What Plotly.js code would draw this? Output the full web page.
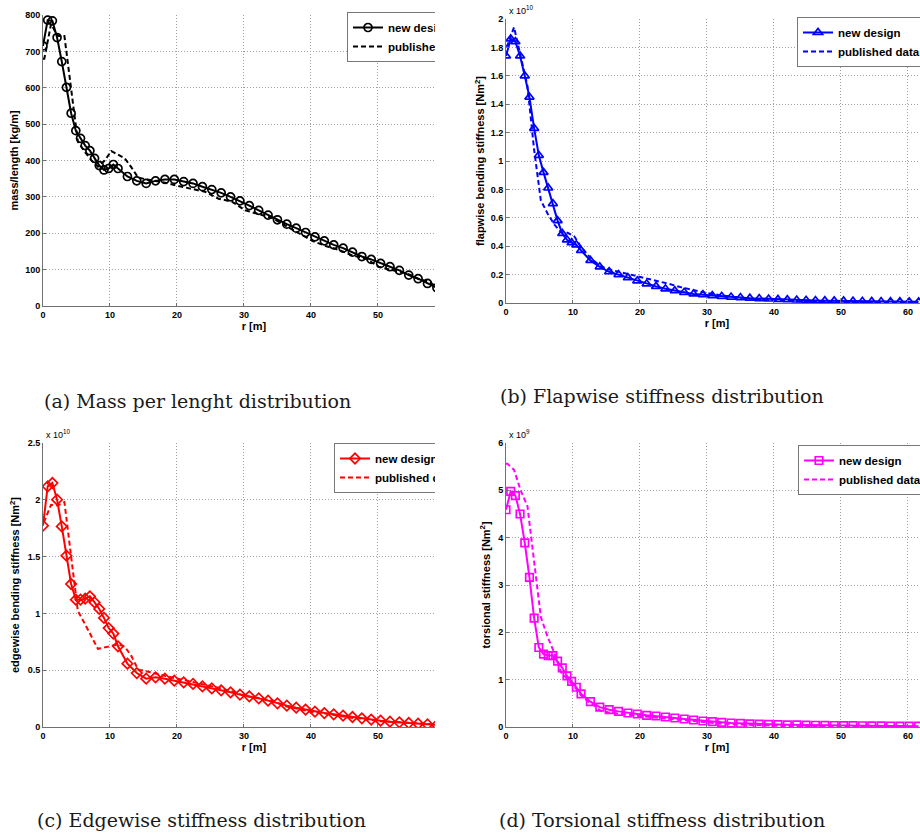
<!DOCTYPE html>
<html>
<head>
<meta charset="utf-8">
<script src="https://cdn.plot.ly/plotly-3.0.1.min.js"></script>
<style>
  html, body { margin: 0; padding: 0; background: #fff; }
  body { width: 920px; height: 834px; position: relative; overflow: hidden; }
  .pane { position: absolute; overflow: hidden; background: #fff; }
</style>
</head>
<body>
<div class="pane" style="left:0;top:0;width:435px;height:417px"><div id="pa"></div></div>
<div class="pane" style="left:460px;top:0;width:460px;height:417px"><div id="pb"></div></div>
<div class="pane" style="left:0;top:417px;width:435px;height:417px"><div id="pc"></div></div>
<div class="pane" style="left:460px;top:417px;width:460px;height:417px"><div id="pd"></div></div>
<script>
// Spanwise stations of the new blade design [m]
const rNew = [0, 0.7, 1.4, 2.1, 2.8, 3.5, 4.2, 4.9, 5.6, 6.3, 7.0, 7.7, 8.4, 9.1, 9.8, 10.5, 11.2,
  12.6, 14.0, 15.4, 16.8, 18.2, 19.6, 21.0, 22.4, 23.8, 25.2, 26.6, 28.0, 29.4, 30.8, 32.2, 33.6,
  35.0, 36.4, 37.8, 39.2, 40.6, 42.0, 43.4, 44.8, 46.2, 47.6, 49.0, 50.4, 51.8, 53.2, 54.6, 56.0,
  57.4, 58.8, 60.2, 61.6];

// Spanwise stations of the published reference blade [m]
const rPub = [0, 0.2, 1.2, 2.2, 3.2, 4.2, 5.2, 6.2, 7.2, 8.2, 9.2, 10.2, 11.2, 12.2, 13.2, 14.2,
  15.2, 16.2, 18.2, 20.2, 22.2, 24.2, 26.2, 28.2, 30.2, 32.2, 34.2, 36.2, 38.2, 40.2, 42.2, 44.2,
  46.2, 48.2, 50.2, 52.2, 54.2, 55.2, 56.2, 57.2, 57.7, 58.2, 58.7, 59.2, 59.7, 60.2, 60.7, 61.2, 61.5];

// (a) mass per length [kg/m]
const massNew = [715, 786, 784, 738, 672, 601, 530, 482, 461, 441, 427, 406, 386, 374, 378, 389, 378,
  356, 344, 337, 344, 348, 348, 342, 337, 328, 320, 311, 300, 289, 276, 263, 250, 237, 225, 214,
  202, 190, 179, 168, 159, 148, 136, 128, 117, 108, 98, 85, 75, 62, 50];
const massPub = [680, 680, 775, 742, 742, 592, 452, 425, 401, 383, 400, 426, 417, 406, 381, 353,
  349, 346, 339, 330, 322, 314, 295, 287, 263, 253, 242, 221, 200, 179, 165, 154, 139, 130, 107,
  99, 90, 83, 73, 69, 66, 59, 56];

// (b) flapwise bending stiffness [x 1e10 Nm^2]
const flapNew = [1.74, 1.86, 1.84, 1.74, 1.60, 1.45, 1.23, 1.04, 0.92, 0.81, 0.70, 0.58, 0.49, 0.445,
  0.425, 0.41, 0.37, 0.30, 0.255, 0.22, 0.20, 0.178, 0.156, 0.135, 0.117, 0.10, 0.087, 0.075, 0.064,
  0.058, 0.052, 0.047, 0.042, 0.038, 0.034, 0.031, 0.028, 0.025, 0.023, 0.021, 0.019, 0.017, 0.016,
  0.015, 0.014, 0.013, 0.012, 0.011, 0.010, 0.0095, 0.009, 0.0085, 0.008];
const flapPub = [1.811, 1.811, 1.942, 1.746, 1.529, 1.078, 0.723, 0.631, 0.553, 0.498, 0.494, 0.469,
  0.395, 0.339, 0.293, 0.257, 0.239, 0.227, 0.205, 0.183, 0.159, 0.136, 0.110, 0.088, 0.068, 0.053,
  0.041, 0.031, 0.024, 0.018, 0.013, 0.011, 0.009, 0.008, 0.006, 0.005, 0.004, 0.0035, 0.003, 0.0027,
  0.0024, 0.002, 0.0016, 0.0013, 0.001, 0.0008, 0.0005, 0.0001, 0.0001];

// (c) edgewise bending stiffness [x 1e10 Nm^2]
const edgeNew = [1.772, 2.118, 2.148, 2.001, 1.766, 1.508, 1.259, 1.121, 1.121, 1.13, 1.15, 1.097,
  1.039, 0.96, 0.871, 0.822, 0.71, 0.557, 0.475, 0.425, 0.437, 0.425, 0.408, 0.393, 0.379, 0.358,
  0.34, 0.323, 0.305, 0.285, 0.27, 0.252, 0.232, 0.208, 0.188, 0.17, 0.153, 0.135, 0.123, 0.112,
  0.10, 0.088, 0.076, 0.065, 0.056, 0.047, 0.041, 0.035, 0.029, 0.023, 0.018];
const edgePub = [1.811, 1.811, 1.956, 1.950, 1.979, 1.486, 1.022, 0.914, 0.806, 0.688, 0.701, 0.717,
  0.727, 0.708, 0.624, 0.505, 0.495, 0.481, 0.450, 0.424, 0.400, 0.375, 0.345, 0.314, 0.273, 0.255,
  0.233, 0.183, 0.158, 0.132, 0.118, 0.102, 0.080, 0.071, 0.052, 0.045, 0.040, 0.035, 0.030, 0.028,
  0.026, 0.016, 0.014];

// (d) torsional stiffness [x 1e9 Nm^2]
const torsNew = [4.59, 4.98, 4.89, 4.50, 3.89, 3.16, 2.30, 1.68, 1.54, 1.51, 1.51, 1.39, 1.25, 1.08,
  0.965, 0.84, 0.70, 0.535, 0.42, 0.366, 0.33, 0.296, 0.275, 0.246, 0.232, 0.211, 0.19, 0.169, 0.148,
  0.127, 0.113, 0.098, 0.085, 0.075, 0.068, 0.062, 0.056, 0.051, 0.047, 0.043, 0.040, 0.037, 0.034,
  0.032, 0.030, 0.028, 0.026, 0.024, 0.022, 0.021, 0.020, 0.019, 0.018];
const torsPub = [5.564, 5.564, 5.432, 4.994, 4.667, 3.475, 2.324, 1.908, 1.570, 1.158, 1.002, 0.856,
  0.672, 0.547, 0.449, 0.336, 0.311, 0.292, 0.261, 0.229, 0.201, 0.174, 0.144, 0.120, 0.081, 0.069,
  0.057, 0.046, 0.036, 0.027, 0.021, 0.019, 0.016, 0.015, 0.009, 0.008, 0.007, 0.006, 0.006, 0.005,
  0.005, 0.004, 0.004, 0.003, 0.003, 0.002, 0.002, 0.0003, 0.0002];

// r-axis ticks: the left-hand panels are cropped just before 60 m
const rTicksShort = [0, 10, 20, 30, 40, 50];
const rTicksFull = [0, 10, 20, 30, 40, 50, 60];

const SANS = 'Liberation Sans, Arial, Helvetica, sans-serif';
const SERIF = 'DejaVu Serif, Liberation Serif, serif';

function buildPanel(id, p) {
  const W = p.W, H = p.H;
  const fx = px => px / W;
  const fy = py => 1 - py / H;

  const traces = [
    {
      x: rNew.slice(0, p.yNew.length), y: p.yNew, name: 'new design',
      type: 'scatter', mode: 'lines+markers',
      line: { color: p.color, width: 2 },
      marker: { symbol: p.symbol, size: p.msize, color: p.color, line: { color: p.color, width: 1.7 } }
    },
    {
      x: rPub.slice(0, p.yPub.length), y: p.yPub, name: 'published data',
      type: 'scatter', mode: 'lines',
      line: { color: p.color, width: 2, dash: '5px,3px' }
    }
  ];

  const axisCommon = {
    showline: true, linecolor: '#707070', linewidth: 1, mirror: false,
    ticks: 'inside', ticklen: 3, tickcolor: '#707070',
    showgrid: true, gridcolor: '#a0a0a0', griddash: '1px,2px', gridwidth: 1,
    zeroline: false, fixedrange: true,
    tickfont: { family: SANS, size: 9, weight: 700, color: '#000' }
  };

  const annotations = [
    {
      text: p.caption, xref: 'paper', yref: 'paper',
      x: fx(p.capX), y: fy(p.capY), xanchor: 'left', yanchor: 'middle',
      showarrow: false, font: { family: SERIF, size: 19, color: '#1a1a1a' }
    }
  ];
  if (p.expo) {
    annotations.push({
      text: p.expo, xref: 'paper', yref: 'paper',
      x: fx(p.expoX), y: fy(p.expoY), xanchor: 'left', yanchor: 'bottom',
      showarrow: false, font: { family: SANS, size: 9, color: '#000' }
    });
  }

  const layout = {
    width: W, height: H,
    margin: { l: 0, r: 0, t: 0, b: 0, pad: 0, autoexpand: false },
    paper_bgcolor: '#fff', plot_bgcolor: '#fff',
    showlegend: true,
    xaxis: Object.assign({}, axisCommon, {
      domain: [fx(p.box.l), fx(p.box.r)], range: [0, 63], tickmode: 'array', tickvals: p.rTicks,
      title: { text: 'r [m]', standoff: 3, font: { family: SANS, size: 11, weight: 700, color: '#000' } }
    }),
    yaxis: Object.assign({}, axisCommon, {
      domain: [fy(p.box.b), fy(p.box.t)], range: p.yRange, dtick: p.dtick, tick0: 0,
      title: { text: p.ytitle, standoff: p.ystand, font: { family: SANS, size: 11, weight: 700, color: '#000' } }
    }),
    legend: {
      x: fx(p.legX), y: fy(p.legY), xanchor: 'left', yanchor: 'top',
      bgcolor: '#fff', bordercolor: '#777', borderwidth: 1,
      font: { family: SANS, size: 11.5, weight: 700, color: '#000' },
      tracegroupgap: 0, itemwidth: 30
    },
    annotations: annotations
  };

  Plotly.newPlot(id, traces, layout, { staticPlot: true, displayModeBar: false });
}

buildPanel('pa', {
  W: 480, H: 417, box: { l: 43, r: 465, t: 15, b: 306 }, rTicks: rTicksShort,
  yNew: massNew, yPub: massPub, color: '#000000', symbol: 'circle-open', msize: 8,
  yRange: [0, 800], dtick: 100, ytitle: 'mass/length [kg/m]', ystand: 4,
  legX: 347, legY: 12, caption: '(a) Mass per lenght distribution', capX: 42, capY: 401
});

buildPanel('pb', {
  W: 520, H: 417, box: { l: 46, r: 468, t: 19, b: 303 }, rTicks: rTicksFull,
  yNew: flapNew, yPub: flapPub, color: '#0000ff', symbol: 'triangle-up-open', msize: 8,
  yRange: [0, 2], dtick: 0.2, ytitle: 'flapwise bending stiffness [Nm<sup>2</sup>]', ystand: 3,
  legX: 337, legY: 17, caption: '(b) Flapwise stiffness distribution', capX: 38, capY: 396,
  expo: 'x 10<sup>10</sup>', expoX: 47, expoY: 18
});

buildPanel('pc', {
  W: 480, H: 417, box: { l: 43, r: 465, t: 26, b: 310 }, rTicks: rTicksShort,
  yNew: edgeNew, yPub: edgePub, color: '#ff0000', symbol: 'diamond-open', msize: 8,
  yRange: [0, 2.5], dtick: 0.5, ytitle: 'edgewise bending stiffness [Nm<sup>2</sup>]', ystand: 5,
  legX: 334, legY: 26, caption: '(c) Edgewise stiffness distribution', capX: 35, capY: 403,
  expo: 'x 10<sup>10</sup>', expoX: 44, expoY: 25
});

buildPanel('pd', {
  W: 520, H: 417, box: { l: 46, r: 468, t: 26, b: 310 }, rTicks: rTicksFull,
  yNew: torsNew, yPub: torsPub, color: '#ff00ff', symbol: 'square-open', msize: 7.5,
  yRange: [0, 6], dtick: 1, ytitle: 'torsional stiffness [Nm<sup>2</sup>]', ystand: 5,
  legX: 338, legY: 28, caption: '(d) Torsional stiffness distribution', capX: 37, capY: 403,
  expo: 'x 10<sup>9</sup>', expoX: 47, expoY: 25
});
</script>
</body>
</html>
